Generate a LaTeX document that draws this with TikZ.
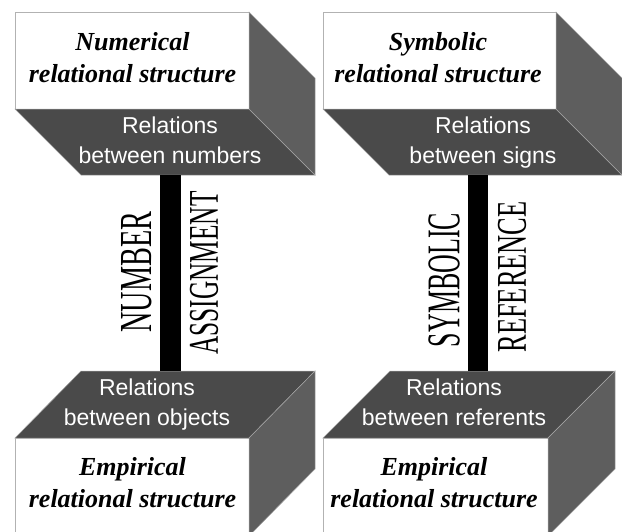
\documentclass[tikz,border=0pt]{standalone}
\usepackage{fontspec}
\setmainfont{Liberation Serif}
\setsansfont{Liberation Sans}
\usepackage{tikz}

\newcommand{\vtext}[3]{\resizebox{#1pt}{#2pt}{#3}}

\begin{document}
\begin{tikzpicture}[x=1pt, y=-1pt,
  front/.style={fill=white, draw=gray!60, line width=0.6pt},
  flatface/.style={fill=black!71, draw=gray!70, line width=0.5pt},
  sideface/.style={fill=black!63, draw=gray!70, line width=0.5pt},
  facelabel/.style={text=white, align=center, inner sep=0pt, anchor=base,
    font=\sffamily\fontsize{23}{30}\selectfont},
  boxlabel/.style={align=center, inner sep=0pt, anchor=base,
    font=\bfseries\itshape\fontsize{26}{32}\selectfont},
  vlabel/.style={rotate=90, inner sep=0pt},
  bar/.style={line width=20.5pt}]
\useasboundingbox (0,0) rectangle (622,531);

\draw[front] (15,12) rectangle (249,109);
\draw[flatface] (15,109) -- (249,109) -- (315,175) -- (81,175) -- cycle;
\draw[sideface] (249,12) -- (315,78) -- (315,175) -- (249,109) -- cycle;

\draw[front] (323,12) rectangle (556,109);
\draw[flatface] (323,109) -- (556,109) -- (622,175) -- (389,175) -- cycle;
\draw[sideface] (556,12) -- (622,78) -- (622,175) -- (556,109) -- cycle;

\draw[flatface] (81,371) -- (315,371) -- (249,438) -- (15,438) -- cycle;
\draw[front] (15,438) rectangle (249,536);
\draw[sideface] (249,438) -- (315,371) -- (315,469) -- (249,536) -- cycle;

\draw[flatface] (390,371) -- (615,371) -- (548,438) -- (323,438) -- cycle;
\draw[front] (323,438) rectangle (548,536);
\draw[sideface] (548,438) -- (615,371) -- (615,469) -- (548,536) -- cycle;

\node[boxlabel] (numstruct) at (132.5,82) {Numerical\\relational structure};
\node[boxlabel] (symstruct) at (438,82) {Symbolic\\relational structure};
\node[boxlabel] (empleft) at (132.5,507) {Empirical\\relational structure};
\node[boxlabel] (empright) at (434,507) {Empirical\\relational structure};

\node[facelabel] (numrel) at (170,163) {Relations\\between numbers};
\node[facelabel] (signrel) at (483,163) {Relations\\between signs};
\node[facelabel] (objrel) at (147,425) {Relations\\between objects};
\node[facelabel] (refrel) at (454,425) {Relations\\between referents};

\coordinate (numbot) at (170.5,175);
\coordinate (objtop) at (170.5,371);
\coordinate (signbot) at (478,175);
\coordinate (reftop) at (478,371);
\draw[bar] (numbot) -- (objtop);
\draw[bar] (signbot) -- (reftop);

\node[vlabel] (number) at (137,272) {\vtext{121}{30}{NUMBER}};
\node[vlabel] (assign) at (204,273) {\vtext{163}{28}{ASSIGNMENT}};
\node[vlabel] (symbolic) at (444,280) {\vtext{134}{31}{SYMBOLIC}};
\node[vlabel] (reference) at (512,277) {\vtext{151}{28}{REFERENCE}};
\end{tikzpicture}
\end{document}
